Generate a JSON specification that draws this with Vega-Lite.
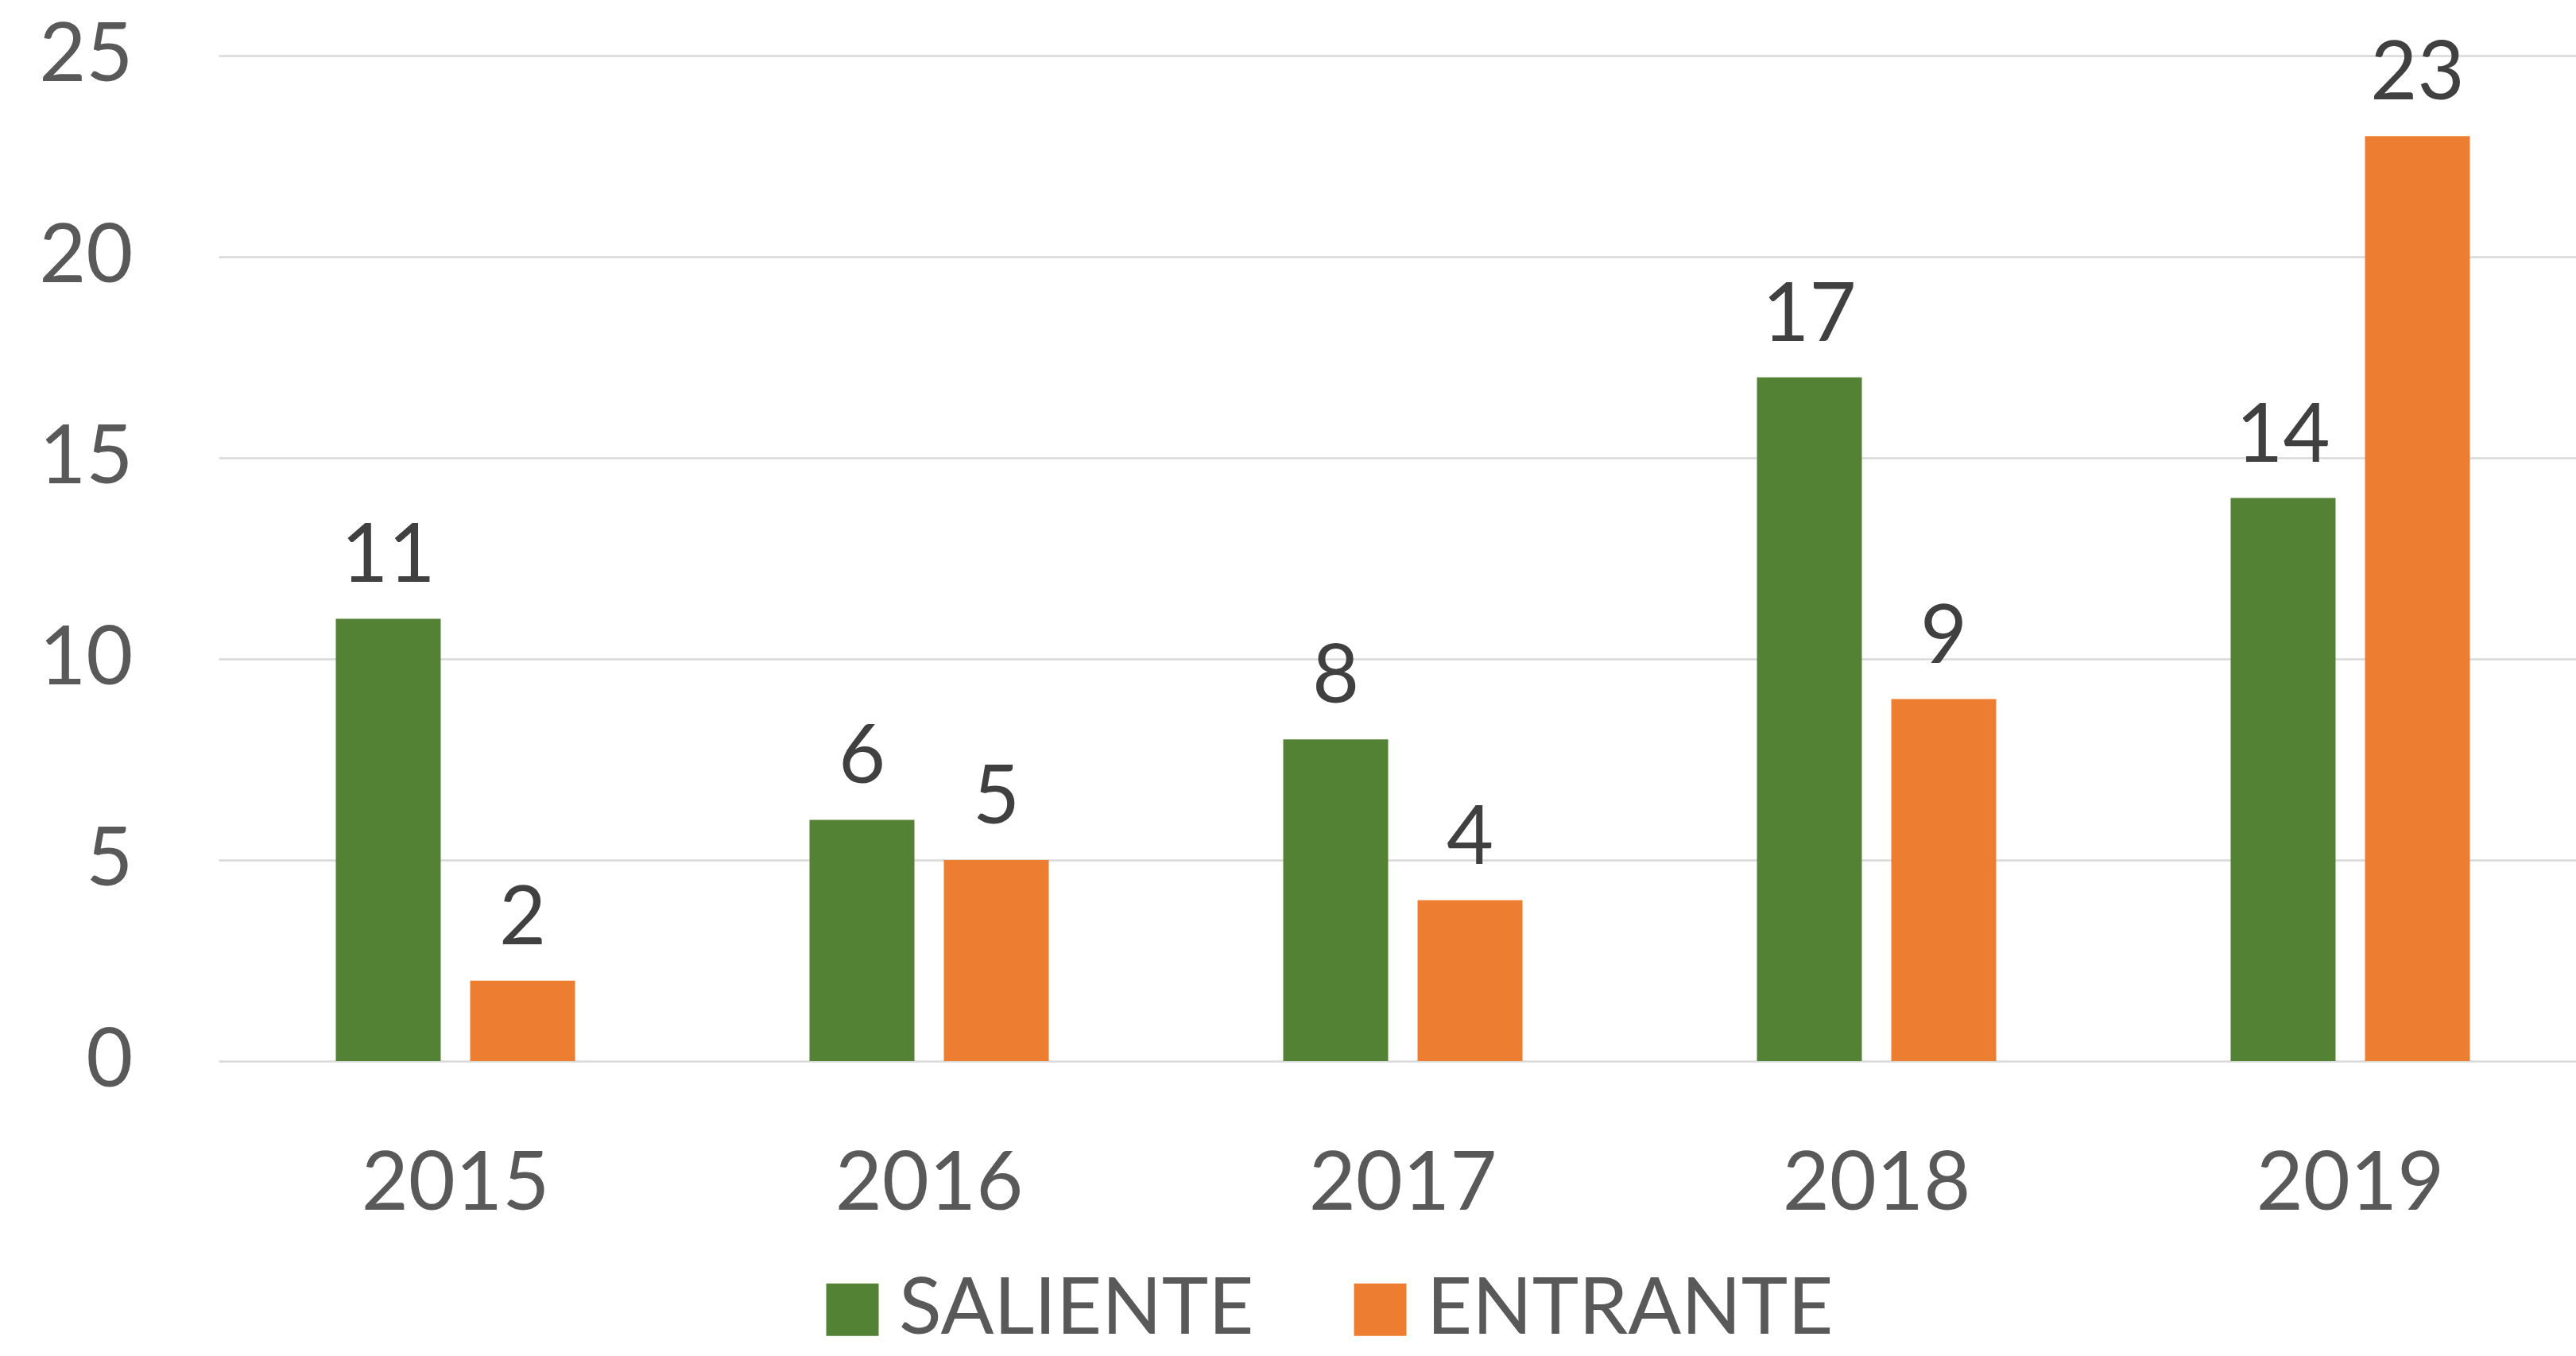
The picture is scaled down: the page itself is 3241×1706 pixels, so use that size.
{
  "$schema": "https://vega.github.io/schema/vega-lite/v6.json",
  "width": 2980,
  "height": 1265,
  "autosize": {"type": "none"},
  "padding": {"left": 275, "top": 70, "right": 0, "bottom": 371},
  "background": "white",
  "config": {"view": {"stroke": null}, "font": "Lato"},
  "data": {
    "values": [
      {"year": "2015", "type": "SALIENTE", "value": 11},
      {"year": "2015", "type": "ENTRANTE", "value": 2},
      {"year": "2016", "type": "SALIENTE", "value": 6},
      {"year": "2016", "type": "ENTRANTE", "value": 5},
      {"year": "2017", "type": "SALIENTE", "value": 8},
      {"year": "2017", "type": "ENTRANTE", "value": 4},
      {"year": "2018", "type": "SALIENTE", "value": 17},
      {"year": "2018", "type": "ENTRANTE", "value": 9},
      {"year": "2019", "type": "SALIENTE", "value": 14},
      {"year": "2019", "type": "ENTRANTE", "value": 23}
    ]
  },
  "encoding": {
    "x": {
      "field": "year", "type": "nominal",
      "scale": {"paddingInner": 0.495, "paddingOuter": 0.2475},
      "axis": {"title": null, "domain": false, "ticks": false, "tickSize": 0, "labelFont": "Lato", "labelFontSize": 102, "labelColor": "#595959", "labelPadding": 105, "labelAngle": 0, "labelLimit": 1000}
    },
    "xOffset": {
      "field": "type", "type": "nominal", "sort": ["SALIENTE", "ENTRANTE"],
      "scale": {"paddingInner": 0.219, "paddingOuter": 0}
    },
    "y": {
      "field": "value", "type": "quantitative",
      "scale": {"domain": [0, 25], "nice": false, "zero": true},
      "axis": {"title": null, "values": [0, 5, 10, 15, 20, 25], "domain": false, "ticks": false, "tickSize": 0, "gridColor": "#d9d9d9", "gridWidth": 2.5, "labelFont": "Lato", "labelFontSize": 102, "labelColor": "#595959", "labelPadding": 108, "labelLimit": 1000}
    }
  },
  "layer": [
    {
      "mark": {"type": "bar"},
      "encoding": {
        "color": {
          "field": "type", "type": "nominal", "sort": ["SALIENTE", "ENTRANTE"],
          "scale": {"domain": ["SALIENTE", "ENTRANTE"], "range": ["#548235", "#ED7D31"]},
          "legend": {"orient": "none", "legendX": 748, "legendY": 1528, "direction": "horizontal", "title": null, "symbolType": "square", "symbolSize": 4356, "symbolStrokeWidth": 0, "symbolOpacity": 1, "labelFont": "Lato", "labelFontSize": 99, "labelColor": "#595959", "labelOffset": 9, "columnPadding": 109, "padding": 0, "labelLimit": 1000}
        }
      }
    },
    {
      "mark": {"type": "text", "baseline": "alphabetic", "dy": -46, "fontSize": 102, "color": "#404040", "font": "Lato"},
      "encoding": {"text": {"field": "value", "type": "quantitative"}}
    }
  ]
}
